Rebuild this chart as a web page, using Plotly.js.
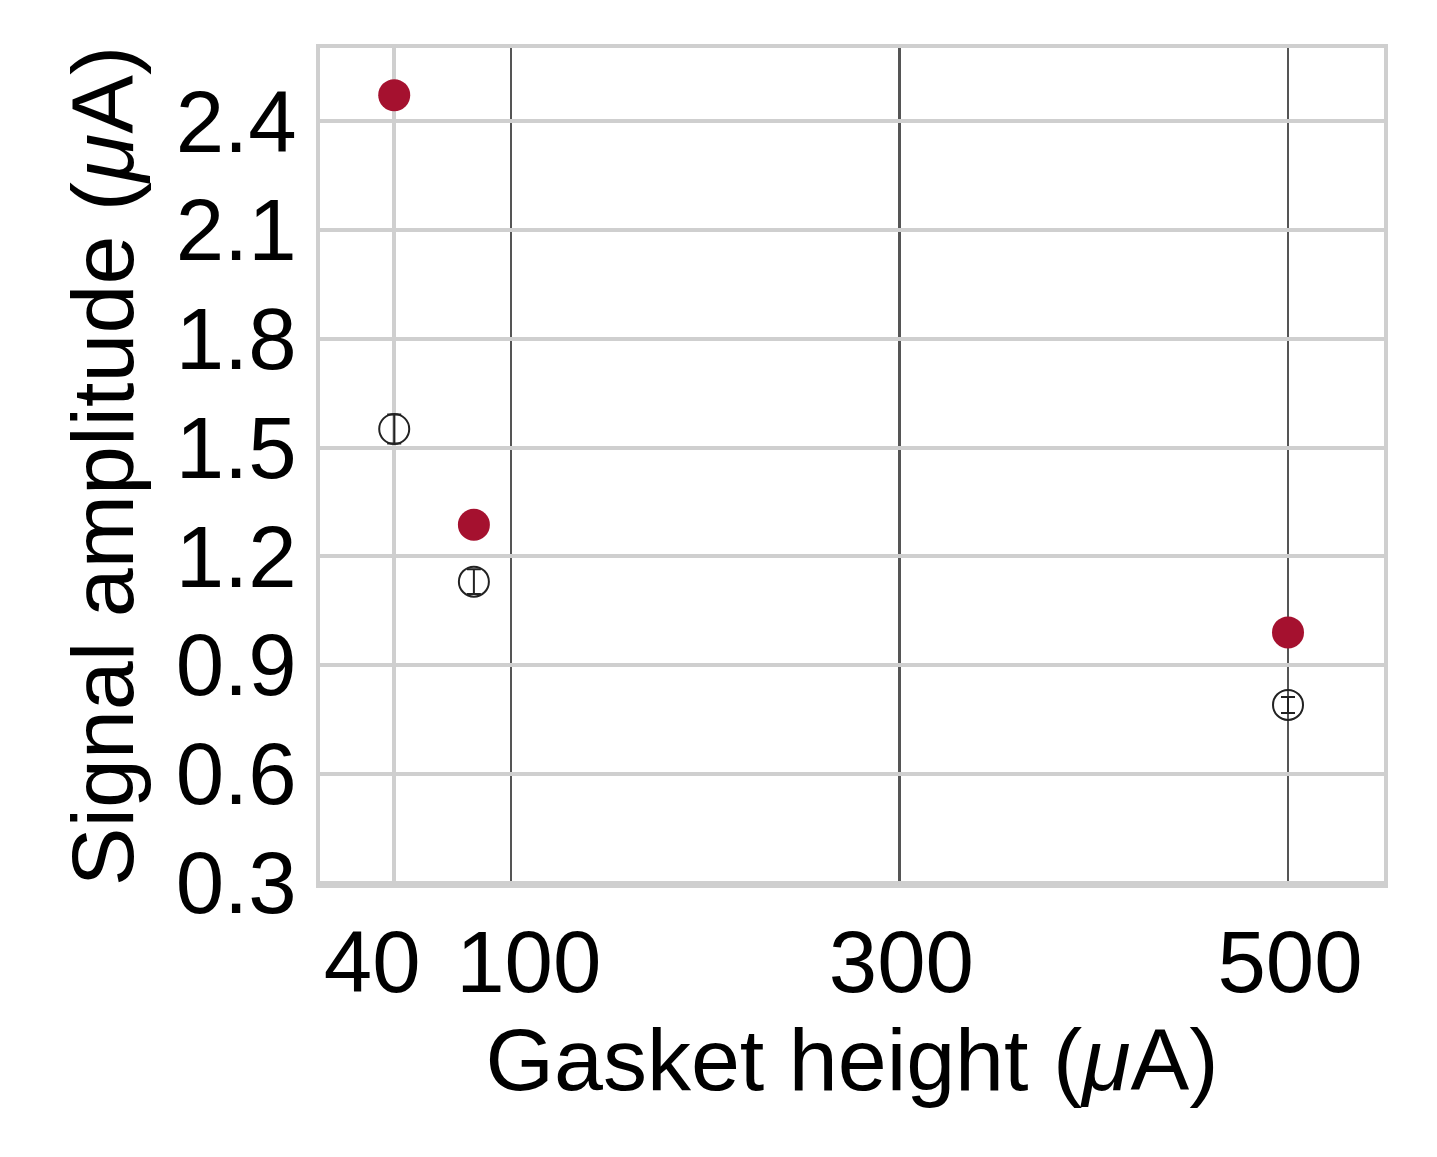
<!DOCTYPE html>
<html>
<head>
<meta charset="utf-8">
<script src="https://cdn.plot.ly/plotly-3.0.1.min.js"></script>
<style>
  html, body { margin: 0; padding: 0; background: #fff; }
  #plot { width: 1437px; height: 1157px; }
</style>
</head>
<body>
<div id="plot"></div>
<script>
// gasket height vs signal amplitude
const gasket = [40, 81, 500];
const amp_filled = [2.472, 1.287, 0.990];
const amp_open = [1.551, 1.130, 0.790];
const err_open = [0.040, 0.034, 0.022];

const x_ticks_main = [300, 500],   // labels drawn on the base axis
  x_tick_40 = [40],
  x_tick_100 = [100],
  x_dark = [100, 300, 500],
  y_ticks = [0.3, 0.6, 0.9, 1.2, 1.5, 1.8, 2.1, 2.4];

const RED = "#a5112f",
  LIGHT = "#cfcfcf",
  DARK = "#555555",
  FONT = "Liberation Sans, Arial, sans-serif",
  TICKFONT = { size: 87, family: FONT, color: "#000" };

// empty trace so the base axis pair exists
var base = { x: [], y: [], type: "scatter", mode: "markers", xaxis: "x", yaxis: "y" };

var filled = {
  x: gasket, y: amp_filled,
  mode: "markers", type: "scatter",
  marker: { color: RED, size: 32 },
  xaxis: "x3", yaxis: "y"
};

var open = {
  x: gasket, y: amp_open,
  mode: "markers", type: "scatter",
  marker: { symbol: "circle-open", color: "#222", size: 30, line: { width: 2, color: "#222" } },
  error_y: { type: "data", array: err_open, color: "#222", thickness: 2, width: 7 },
  xaxis: "x2", yaxis: "y"
};

var xrange = [1.8, 549.4];

var layout = {
  width: 1437, height: 1157,
  margin: { l: 320, r: 53, t: 48, b: 273 },
  paper_bgcolor: "#fff", plot_bgcolor: "#fff",
  showlegend: false,
  font: { family: FONT, color: "#000" },
  xaxis: {
    range: xrange,
    tickmode: "array", tickvals: x_ticks_main,
    tickangle: 0, ticklabelshift: 2,
    ticks: "", showgrid: false, zeroline: false,
    showline: true, mirror: true, linecolor: LIGHT, linewidth: 4,
    tickfont: TICKFONT,
    ticklabelstandoff: 0,
    minor: { tickmode: "array", tickvals: x_dark, showgrid: true, gridcolor: DARK, gridwidth: 2.5, ticks: "" },
    title: { text: "\u00a0\u2009Gasket height (<i>μ</i>A)", font: { size: 88, family: FONT }, standoff: 12 }
  },
  xaxis2: {
    overlaying: "x", anchor: "y", side: "bottom", range: xrange,
    tickmode: "array", tickvals: x_tick_40,
    tickangle: 0, ticklabelshift: -22, ticklabelstandoff: 20,
    tickfont: TICKFONT, ticks: "",
    showgrid: true, gridcolor: LIGHT, gridwidth: 4, zeroline: false
  },
  xaxis3: {
    overlaying: "x", anchor: "y", side: "bottom", range: xrange,
    tickmode: "array", tickvals: x_tick_100,
    tickangle: 0, ticklabelshift: 18, ticklabelstandoff: 20,
    tickfont: TICKFONT, ticks: "",
    showgrid: false, zeroline: false
  },
  yaxis: {
    range: [0.296, 2.602],
    tickmode: "array", tickvals: y_ticks,
    ticktext: y_ticks.map(v => v.toFixed(1)),
    ticks: "", showgrid: true, gridcolor: LIGHT, gridwidth: 4, zeroline: false,
    showline: true, mirror: true, linecolor: LIGHT, linewidth: 4,
    tickfont: TICKFONT,
    ticklabelstandoff: 2,
    title: { text: "Signal amplitude (<i>μ</i>A)", font: { size: 88, family: FONT }, standoff: 14 }
  }
};

Plotly.newPlot("plot", [base, open, filled], layout, { displayModeBar: false, staticPlot: true });
</script>
</body>
</html>
